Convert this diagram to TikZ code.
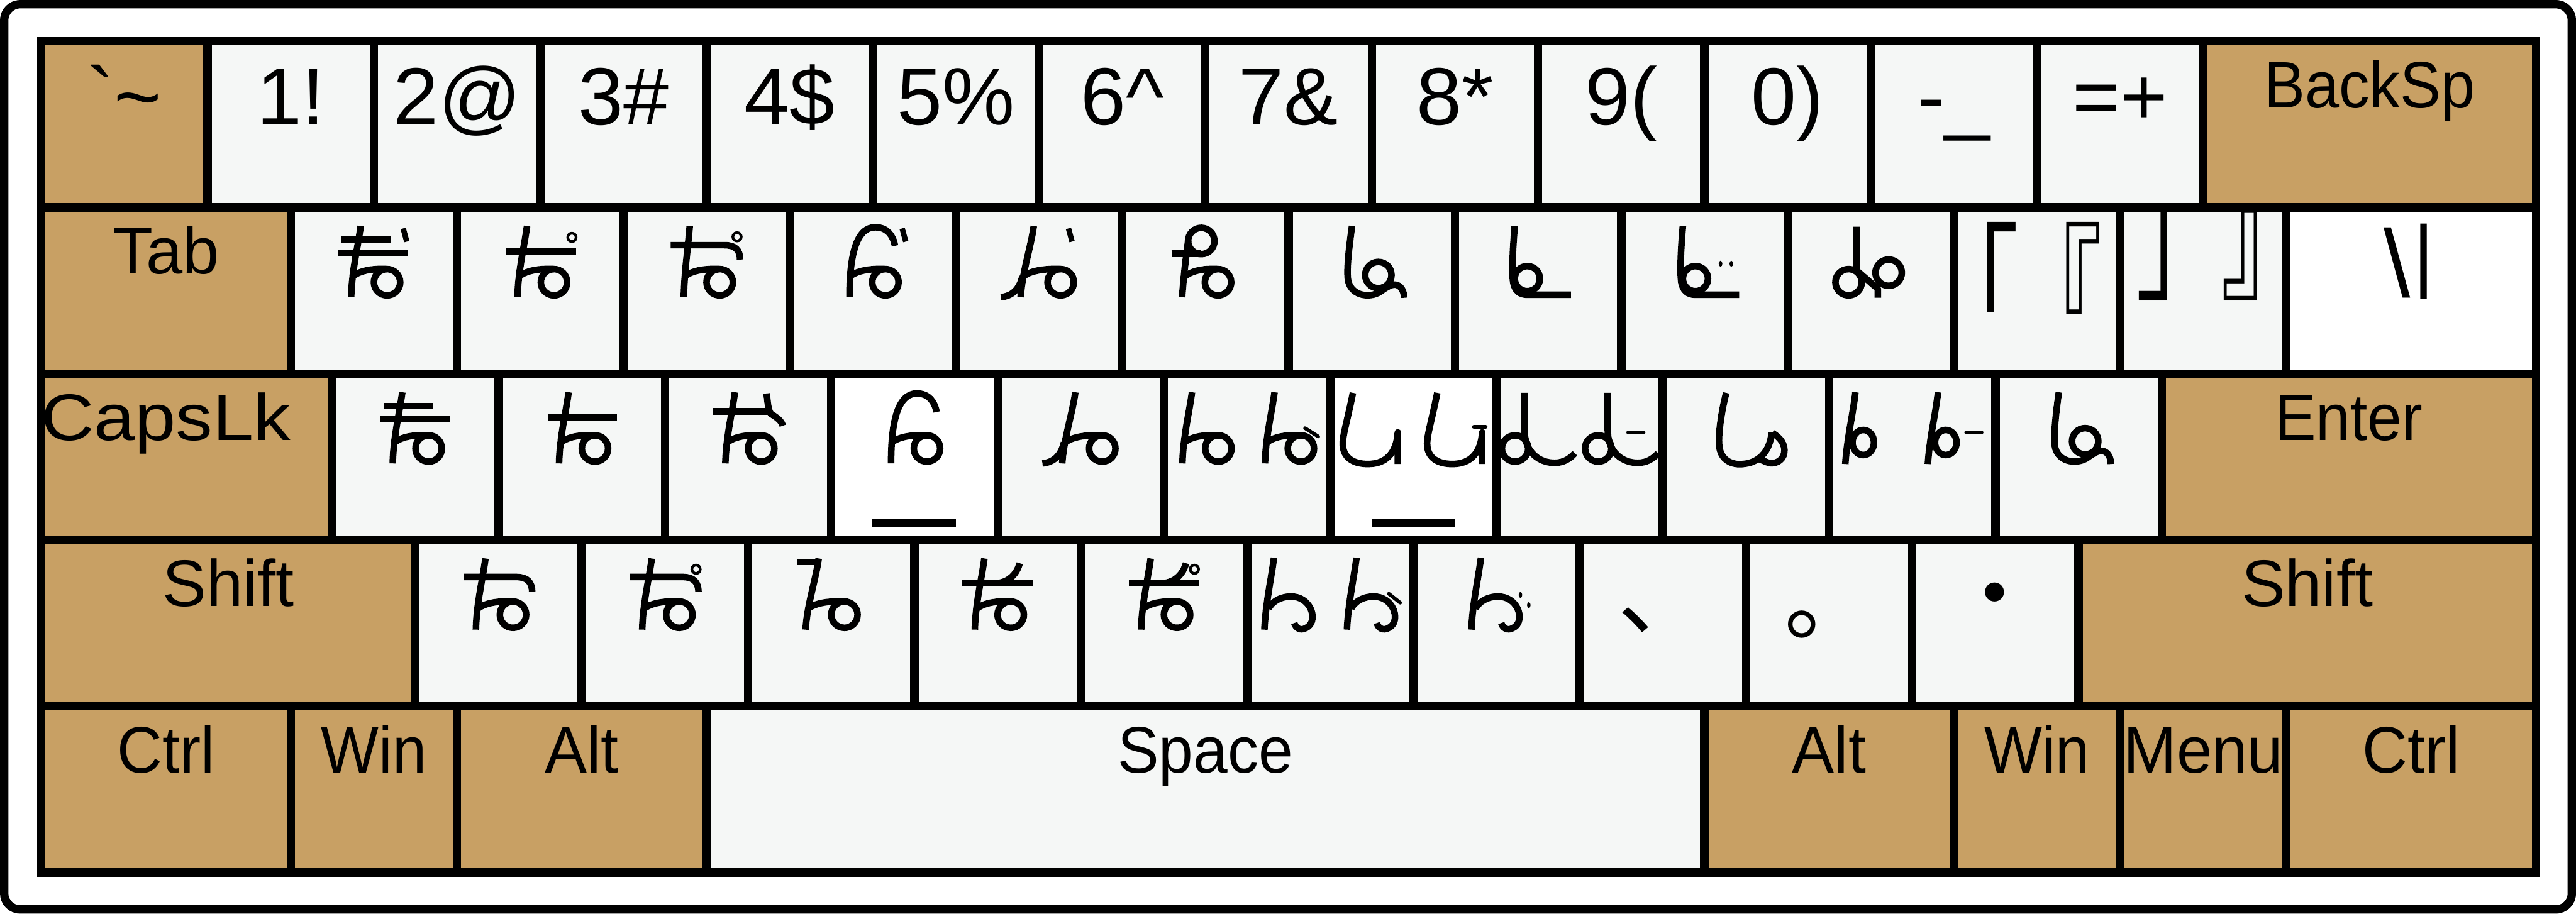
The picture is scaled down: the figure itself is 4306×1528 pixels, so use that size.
\documentclass[tikz,border=0pt]{standalone}
\usepackage{fontspec}
\setmainfont{Liberation Sans}
\newfontfamily\plainsans{Liberation Sans}
\newfontfamily\cjk{Noto Sans CJK JP}
\usetikzlibrary{calc}
\definecolor{keytan}{RGB}{200,160,100}
\definecolor{keylight}{RGB}{245,247,246}
\tikzset{
  keyshape/.style={draw=none,inner sep=0,outer sep=0,rectangle},
  lbl/.style={inner sep=0,outer sep=0,anchor=base,font=\fontsize{110}{120}\selectfont},
  lblbig/.style={inner sep=0,outer sep=0,anchor=base,font=\fontsize{136}{150}\selectfont},
  cj/.style={inner sep=0,outer sep=0,font=\cjk\fontsize{150}{160}\selectfont},
  gl/.style={draw=black,line width=11,line cap=butt,line join=round},
  glt/.style={draw=black,line width=9,line cap=butt},
  gld/.style={draw=black,line width=6,line cap=round},
  hand/.style={draw=black,line width=4.5},
}
% key: name, row, start unit, end unit, colour
\newcommand\K[5]{\node[keyshape,fill=#5,minimum width={((#4)-(#3))*278-14},minimum height=264] (#1) at ({((#3)+(#4))/2*278+69},{(#2)*278+208}) {};}
% glyph parts (local: origin at key top centre, y downwards)
\newcommand\gStem{\draw[gl] (-22,24) .. controls (-27,60) and (-37,100) .. (-38,143);}
\newcommand\gLoop[2]{\draw[gl] (#1,118) circle[radius=22]; \draw[gl] (#2,108) .. controls (#2+14,97) and (#1-20,95) .. (#1,96);}
\newcommand\gTick{\draw[glt] (49,28) -- (55,50);}
\newcommand\gHanda[2]{\draw[hand] (#1,#2) circle[radius=7];}
\newcommand\gHookBar{\draw[gl] (-58,55) -- (30,55) .. controls (48,55) and (56,64) .. (56,80);}
\newcommand\gSix{\draw[gl] (-39,143) .. controls (-39,80) and (-30,26) .. (4,26) .. controls (24,26) and (34,40) .. (37,57); \gLoop{21}{-38}}
\newcommand\gFoot{\draw[gl] (-9,24) .. controls (-14,60) and (-28,100) .. (-31,143);
  \draw[gl] (-28,108) .. controls (-33,130) and (-45,141) .. (-64,143); \gLoop{36}{-26}}
\newcommand\gLa{\draw[gl] (-33,24) .. controls (-38,60) and (-42,95) .. (-40,112) .. controls (-37,140) and (-5,146) .. (14,134) .. controls (25,126) and (32,122) .. (38,122) .. controls (48,122) and (54,132) .. (54,144);
  \draw[gl] (11,106) circle[radius=22];}
\newcommand\gBl{\draw[gl] (-39,24) .. controls (-42,60) and (-44,95) .. (-42,115) .. controls (-40,133) and (-30,139) .. (-18,139) -- (55,139);
  \draw[gl] (-18,112) circle[radius=21];}
\newcommand\gHo{\gStem\gLoop{22}{-35}}
\newcommand\gU{\draw[gl] (-31,25) .. controls (-40,70) and (-48,95) .. (-48,110) .. controls (-48,135) and (-28,144) .. (-6,144) .. controls (25,144) and (42,125) .. (44,91) -- (44,144);}
\newcommand\gD{\draw[gl] (0,25) -- (0,88) .. controls (0,125) and (25,142) .. (50,142) .. controls (65,142) and (76,135) .. (84,126);
  \draw[gl] (-16,118) circle[radius=22];}
\newcommand\gB{\draw[gl] (17,24) .. controls (13,60) and (3,100) .. (0,144);
  \draw[gl] (30,108) ellipse[x radius=18,y radius=21];}
\newcommand\gH{\draw[gl] (16,23) .. controls (11,60) and (2,100) .. (0,143);
  \draw[gl] (7,108) .. controls (15,92) and (35,86) .. (50,88) .. controls (80,92) and (90,130) .. (70,140) .. controls (60,146) and (52,140) .. (50,132);}
\newcommand\gUnder{\fill[black] (-70,236) rectangle (69,250);}
\begin{document}
\begin{tikzpicture}[x=1pt,y=-1pt]
\useasboundingbox (0,0) rectangle (4306,1528);
\draw[line width=14,rounded corners=27,fill=white] (7,7) rectangle (4299,1521);
\fill[black] (62,62) rectangle (4246,1466);
% row 1
\K{kgrave}{0}{0}{1}{keytan}
\foreach \i in {1,...,12}{\K{n\i}{0}{\i}{\i+1}{keylight}}
\K{kbksp}{0}{13}{15}{keytan}
% row 2
\K{ktab}{1}{0}{1.5}{keytan}
\foreach \i in {1,...,12}{\K{t\i}{1}{\i+0.5}{\i+1.5}{keylight}}
\K{kbsl}{1}{13.5}{15}{white}
% row 3
\K{kcaps}{2}{0}{1.75}{keytan}
\foreach \i in {1,...,11}{\K{c\i}{2}{\i+0.75}{\i+1.75}{keylight}}
\K{c4}{2}{4.75}{5.75}{white}
\K{c7}{2}{7.75}{8.75}{white}
\K{kenter}{2}{12.75}{15}{keytan}
% row 4
\K{klshift}{3}{0}{2.25}{keytan}
\foreach \i in {1,...,10}{\K{s\i}{3}{\i+1.25}{\i+2.25}{keylight}}
\K{krshift}{3}{12.25}{15}{keytan}
% row 5
\K{klctrl}{4}{0}{1.5}{keytan}
\K{klwin}{4}{1.5}{2.5}{keytan}
\K{klalt}{4}{2.5}{4}{keytan}
\K{kspace}{4}{4}{10}{keylight}
\K{kralt}{4}{10}{11.5}{keytan}
\K{krwin}{4}{11.5}{12.5}{keytan}
\K{kmenu}{4}{12.5}{13.5}{keytan}
\K{krctrl}{4}{13.5}{15}{keytan}
% labels row 1
\node[lblbig,font=\plainsans\fontsize{136}{150}\selectfont] at ($(kgrave.north)+(0,133)$) {`\symbol{"7E}};
\node[lblbig] at ($(n1.north)+(0,133)$) {1!};
\node[lblbig] at ($(n2.north)+(0,133)$) {2@};
\node[lblbig] at ($(n3.north)+(0,133)$) {3\#};
\node[lblbig] at ($(n4.north)+(0,133)$) {4\$};
\node[lblbig] at ($(n5.north)+(0,133)$) {5\%};
\node[lblbig] at ($(n6.north)+(0,133)$) {6\symbol{"5E}};
\node[lblbig] at ($(n7.north)+(0,133)$) {7\&};
\node[lblbig] at ($(n8.north)+(0,133)$) {8*};
\node[lblbig] at ($(n9.north)+(0,133)$) {9(};
\node[lblbig] at ($(n10.north)+(0,133)$) {0)};
\node[lblbig] at ($(n11.north)+(0,133)$) {-\symbol{"5F}};
\node[lblbig] at ($(n12.north)+(0,133)$) {=+};
\node[lbl] at ($(kbksp.north)+(0,104)$) {\scalebox{0.93}[1]{BackSp}};
\node[lbl] at ($(ktab.north)+(0,104)$) {Tab};
\node[lbl,font=\fontsize{160}{170}\selectfont] at ($(kbsl.north)+(-24,143)$) {\symbol{"5C}};
\node[lbl,font=\fontsize{134}{150}\selectfont] at ($(kbsl.north)+(21,118)$) {|};
\node[lbl] at ($(kcaps.north)+(-35,104)$) {\scalebox{1.12}[1]{CapsLk}};
\node[lbl] at ($(kenter.north)+(0,104)$) {\scalebox{0.94}[1]{Enter}};
\node[lbl] at ($(klshift.north)+(0,104)$) {Shift};
\node[lbl] at ($(krshift.north)+(0,104)$) {Shift};
\node[lbl] at ($(klctrl.north)+(0,104)$) {\scalebox{0.95}[1]{Ctrl}};
\node[lbl] at ($(klwin.north)+(0,104)$) {\scalebox{0.93}[1]{Win}};
\node[lbl] at ($(klalt.north)+(0,104)$) {\scalebox{0.96}[1]{Alt}};
\node[lbl] at ($(kspace.north)+(0,104)$) {\scalebox{0.94}[1]{Space}};
\node[lbl] at ($(kralt.north)+(0,104)$) {\scalebox{0.96}[1]{Alt}};
\node[lbl] at ($(krwin.north)+(0,104)$) {\scalebox{0.93}[1]{Win}};
\node[lbl] at ($(kmenu.north)+(0,104)$) {\scalebox{0.97}[1]{Menu}};
\node[lbl] at ($(krctrl.north)+(0,104)$) {\scalebox{0.95}[1]{Ctrl}};
% CJK punctuation
\node[cj,anchor=north west] at ($(t11.north)+(-180,17)$) {\scalebox{1}[1.55]{「}};
\node[cj,anchor=north west] at ($(t11.north)+(-40,17)$) {\scalebox{1}[1.55]{『}};
\node[cj,anchor=south west] at ($(t12.north)+(-112,149)$) {\scalebox{1}[1.55]{」}};
\node[cj,anchor=south west] at ($(t12.north)+(30,149)$) {\scalebox{1}[1.55]{』}};
\node[cj,anchor=south west] at ($(s8.north)+(-75,148)$) {、};
\node[cj,anchor=south west] at ($(s9.north)+(-75,157)$) {。};
\node[cj,anchor=center] at ($(s10.north)+(-1,101)$) {・};
% glyphs row 2
\begin{scope}[shift={(t1.north)}]\gStem\draw[gl] (-54,47)--(29,47) (-60,69)--(56,69);\gLoop{22}{-35}\gTick\end{scope}
\begin{scope}[shift={(t2.north)}]\gStem\draw[gl] (-57,66)--(60,66);\gLoop{23}{-35}\gHanda{53}{43}\end{scope}
\begin{scope}[shift={(t3.north)}]\draw[gl] (-28,24) .. controls (-31,60) and (-37,100) .. (-38,143);\draw[gl] (-60,56) -- (30,56) .. controls (48,56) and (56,64) .. (56,80);\gLoop{22}{-36}\gHanda{51}{42}\end{scope}
\begin{scope}[shift={(t4.north)}]\gSix\gTick\end{scope}
\begin{scope}[shift={(t5.north)}]\gFoot\gTick\end{scope}
\begin{scope}[shift={(t6.north)}]\draw[gl] (-39,143) .. controls (-36,100) and (-31,65) .. (-29,49);\draw[gl] (-7,49) circle[radius=22];\draw[gl] (-57,70)--(-7,70);\gLoop{21}{-34}\end{scope}
\begin{scope}[shift={(t7.north)}]\gLa\end{scope}
\begin{scope}[shift={(t8.north)}]\gBl\end{scope}
\begin{scope}[shift={(t9.north)}]\begin{scope}[shift={(3,0)}]\gBl\end{scope}\fill (27,87) ellipse[x radius=3,y radius=5] (45,87) ellipse[x radius=3,y radius=5];\end{scope}
\begin{scope}[shift={(t10.north)}]\draw[gl] (-37,118) circle[radius=22] (30,102) circle[radius=22];\draw[gl] (-24,25)--(-24,98)--(12,129)--(12,144);\end{scope}
% glyphs row 3
\begin{scope}[shift={(c1.north)}]\gStem\draw[gl] (-53,47)--(29,47) (-59,69)--(57,69);\gLoop{22}{-35}\end{scope}
\begin{scope}[shift={(c2.north)}]\gStem\draw[gl] (-57,66)--(59,66);\gLoop{22}{-35}\end{scope}
\begin{scope}[shift={(c3.north)}]\gStem\draw[gl] (-58,56)--(40,56);\draw[gl] (31,26) .. controls (33,45) and (34,54) .. (38,60) .. controls (48,66) and (56,72) .. (58,80);\gLoop{22}{-35}\end{scope}
\begin{scope}[shift={(c4.north)}]\gSix\gUnder\end{scope}
\begin{scope}[shift={(c5.north)}]\gFoot\end{scope}
\begin{scope}[shift={(c6.north)}]\begin{scope}[shift={(-70,0)}]\gHo\end{scope}\begin{scope}[shift={(68,0)}]\gHo\draw[gld] (29,84)--(51,98);\end{scope}\end{scope}
\begin{scope}[shift={(c7.north)}]\begin{scope}[shift={(-70,0)}]\gU\end{scope}\begin{scope}[shift={(71,0)}]\gU\draw[gld] (30,82)--(50,82);\end{scope}\gUnder\end{scope}
\begin{scope}[shift={(c8.north)}]\begin{scope}[shift={(-92,0)}]\gD\end{scope}\begin{scope}[shift={(47,0)}]\gD\draw[gld] (34,91)--(60,91);\end{scope}\end{scope}
\begin{scope}[shift={(c9.north)}]\draw[gl] (-33,25) .. controls (-42,60) and (-46,95) .. (-45,110) .. controls (-44,140) and (-20,146) .. (-5,144) .. controls (20,142) and (40,125) .. (43,91);
  \draw[gl] (44,92) .. controls (58,100) and (66,112) .. (64,125) .. controls (62,140) and (45,146) .. (35,141) .. controls (28,138) and (22,136) .. (18,134);\end{scope}
\begin{scope}[shift={(c10.north)}]\begin{scope}[shift={(-112,0)}]\gB\end{scope}\begin{scope}[shift={(26,0)}]\gB\draw[gld] (64,91)--(90,91);\end{scope}\end{scope}
\begin{scope}[shift={(c11.north)}]\gLa\end{scope}
% glyphs row 4
\begin{scope}[shift={(s1.north)}]\gStem\gHookBar\gLoop{24}{-35}\end{scope}
\begin{scope}[shift={(s2.north)}]\gStem\gHookBar\gLoop{24}{-35}\gHanda{52}{42}\end{scope}
\begin{scope}[shift={(s3.north)}]\draw[gl] (-21,24) .. controls (-26,60) and (-40,100) .. (-43,143);\draw[gl] (-56,30)--(-17,30);\gLoop{22}{-39}\end{scope}
\begin{scope}[shift={(s4.north)}]\gStem\draw[gl] (-59,65)--(59,65);\draw[gl] (37,32) .. controls (32,50) and (20,62) .. (2,65);\gLoop{22}{-35}\end{scope}
\begin{scope}[shift={(s5.north)}]\gStem\draw[gl] (-59,65)--(59,65);\draw[gl] (37,32) .. controls (32,50) and (20,62) .. (2,65);\gLoop{22}{-35}\gHanda{51}{42}\end{scope}
\begin{scope}[shift={(s6.north)}]\begin{scope}[shift={(-110,0)}]\gH\end{scope}\begin{scope}[shift={(28,0)}]\gH\draw[gld] (70,83)--(89,98);\end{scope}\end{scope}
\begin{scope}[shift={(s7.north)}]\begin{scope}[shift={(-42,0)}]\gH\end{scope}\fill (40,85) ellipse[x radius=3,y radius=5] (54,102) ellipse[x radius=3,y radius=5];\end{scope}
\end{tikzpicture}
\end{document}
